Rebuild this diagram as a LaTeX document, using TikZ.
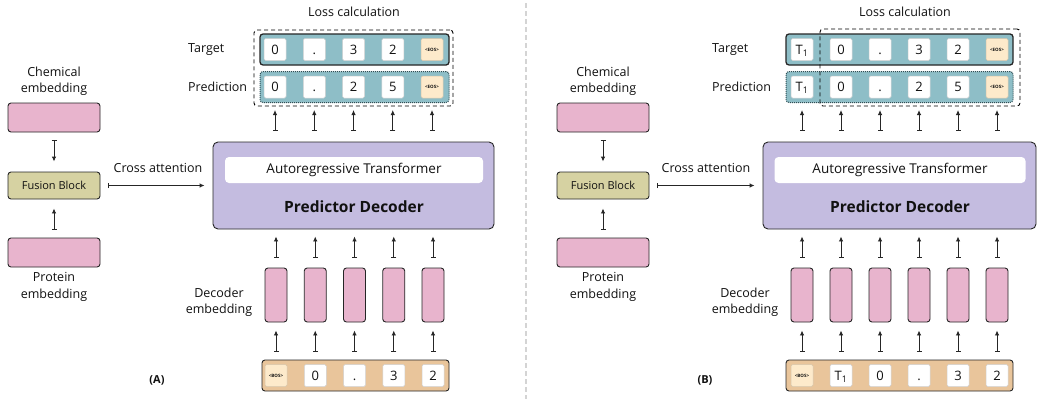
\documentclass[tikz,border=0pt]{standalone}
\usepackage{fontspec}
\setmainfont{Open Sans}
\usetikzlibrary{arrows.meta,calc}

\definecolor{pinkemb}{HTML}{E8B4CD}
\definecolor{fusefill}{HTML}{D6D2A2}
\definecolor{decfill}{HTML}{C4BCE0}
\definecolor{tealbar}{HTML}{8EBEC7}
\definecolor{tanbar}{HTML}{E9C59B}
\definecolor{cream}{HTML}{FDEACB}
\definecolor{edge}{HTML}{262626}
\definecolor{dotedge}{HTML}{2F4F55}
\definecolor{divider}{HTML}{D4D4D4}
\definecolor{ink}{HTML}{111111}

\newcommand\eostok{<EOS>}
\newcommand\bostok{<BOS>}
\newcommand\tonetok{T\textsubscript{1}}

\begin{document}
\begin{tikzpicture}[x=1pt,y=-1pt,
  lbl/.style={font=\fontsize{12.5}{16.5}\selectfont, text=ink, inner sep=0pt},
  box/.style={draw=edge, line width=0.9pt, rounded corners=3pt, inner sep=0pt},
  emb/.style={box, fill=pinkemb},
  tok/.style={draw=black!18, line width=0.5pt, fill=white, rounded corners=1.5pt,
    minimum width=22pt, minimum height=22pt, inner sep=0pt, text=ink,
    text height=9pt, text depth=0pt,
    font=\fontsize{13}{13}\selectfont},
  spec/.style={tok, fill=cream, draw=cream!85!black, text height=3.2pt,
    font=\fontsize{4.5}{4.5}\selectfont\bfseries},
  tbar/.style={draw=edge, line width=1.3pt, fill=tealbar, rounded corners=3pt, inner sep=0pt},
  pbar/.style={draw=dotedge, line width=1pt, dash pattern=on 1pt off 1pt, fill=tealbar, rounded corners=3pt, inner sep=0pt},
  ibar/.style={draw=edge, line width=0.9pt, fill=tanbar, rounded corners=3pt, inner sep=0pt},
  lossbox/.style={draw=black, line width=0.9pt, dash pattern=on 4pt off 3pt, rounded corners=3pt, inner sep=0pt},
  arr/.style={draw=edge, line width=0.9pt, arrows={Bar[width=5pt,line width=0.9pt]-Latex[length=5pt,width=4.5pt]}},
  artext/.style={fill=white, rounded corners=4pt, minimum height=26pt, inner sep=0pt,
    font=\fontsize{13.5}{13.5}\selectfont, text=ink},
  pdtext/.style={font=\fontsize{15.5}{15.5}\selectfont\bfseries, text=ink, inner sep=0pt},
  panel/.style={font=\fontsize{11}{11}\selectfont\bfseries, text=ink, inner sep=0pt}
]
\useasboundingbox (0,0) rectangle (1040,402);
\fill[white] (0,0) rectangle (1040,402);

% separator between the two panels
\draw[divider, line width=1.3pt, dash pattern=on 5pt off 3pt] (526,3) -- (526,399);

% chemical / protein embeddings feeding the fusion block
\foreach \p/\dx in {A/0,B/549}{
  \node[lbl, align=center] (\p-chemlbl) at (54+\dx,81) {Chemical\\embedding};
  \node[emb, minimum width=92pt, minimum height=29pt] (\p-chem) at (54+\dx,117.5) {};
  \node[box, fill=fusefill, minimum width=92pt, minimum height=27pt,
        font=\fontsize{11}{11}\selectfont, text=ink] (\p-fuse) at (54+\dx,185.5) {Fusion Block};
  \node[emb, minimum width=92pt, minimum height=29pt] (\p-prot) at (54+\dx,252.5) {};
  \node[lbl, align=center] (\p-protlbl) at (54+\dx,287) {Protein\\embedding};
  \draw[arr] ($(\p-chem.south)+(0,8)$) -- ($(\p-fuse.north)+(0,-10)$);
  \draw[arr] ($(\p-prot.north)+(0,-8)$) -- ($(\p-fuse.south)+(0,9)$);
}

% ---------------- panel (A) ----------------
\node[box, fill=decfill, rounded corners=5pt, minimum width=281pt, minimum height=87pt] (A-dec) at (353.5,185.5) {};
\node[artext, minimum width=258pt] (A-ar) at (354,170) {Autoregressive Transformer};
\node[pdtext] (A-pd) at (354,207) {Predictor Decoder};

\draw[arr] ($(A-fuse.east)+(8,0)$) -- ($(A-dec.west)+(-8,0)$);
\node[lbl] (A-cross) at (158,168) {Cross attention};

\node[tbar, minimum width=189pt, minimum height=31pt] (A-tbar) at (354.5,49.5) {};
\node[pbar, minimum width=189pt, minimum height=31pt] (A-pbar) at (354.5,87) {};
\node[ibar, minimum width=187pt, minimum height=31pt] (A-ibar) at (355.5,375.5) {};

\foreach \t/\s [count=\i from 0] in {0/tok,./tok,3/tok,2/tok,\eostok/spec}
  \node[\s] (A-t\i) at ({275+39.25*\i},49.5) {\t};
\foreach \t/\s [count=\i from 0] in {0/tok,./tok,2/tok,5/tok,\eostok/spec}
  \node[\s] (A-p\i) at ({275+39.25*\i},87) {\t};
\foreach \t/\s [count=\i from 0] in {\bostok/spec,0/tok,./tok,3/tok,2/tok}
  \node[\s] (A-i\i) at ({276+39.25*\i},375.5) {\t};
\foreach \i in {0,...,4}{
  \node[emb, minimum width=22pt, minimum height=54pt] (A-e\i) at ({276+39.25*\i},295) {};
  \draw[arr] ($(A-dec.north -| A-p\i)+(0,-11)$) -- ($(A-p\i |- A-pbar.south)+(0,7)$);
  \draw[arr] ($(A-e\i.north)+(0,-10)$) -- ($(A-dec.south -| A-e\i)+(0,7)$);
  \draw[arr] ($(A-i\i |- A-ibar.north)+(0,-8)$) -- ($(A-e\i.south)+(0,8)$);
}

\node[lossbox, minimum width=199pt, minimum height=76pt] (A-loss) at (353.5,68) {};
\node[lbl] (A-losslbl) at (354,12) {Loss calculation};
\node[lbl, anchor=west] (A-tlbl) at (188,49.5) {Target};
\node[lbl, anchor=west] (A-plbl) at (188,87) {Prediction};
\node[lbl, align=center] (A-elbl) at (219,302) {Decoder\\embedding};
\node[panel] (A-tag) at (157,380) {(A)};

% ---------------- panel (B) ----------------
\node[box, fill=decfill, rounded corners=5pt, minimum width=273pt, minimum height=87pt] (B-dec) at (899.5,185.5) {};
\node[artext, minimum width=251pt] (B-ar) at (900,170) {Autoregressive Transformer};
\node[pdtext] (B-pd) at (900,207) {Predictor Decoder};

\draw[arr] ($(B-fuse.east)+(8,0)$) -- ($(B-dec.west)+(-8,0)$);
\node[lbl] (B-cross) at (706,168) {Cross attention};

\node[tbar, minimum width=227pt, minimum height=31pt] (B-tbar) at (899.5,49.5) {};
\node[pbar, minimum width=227pt, minimum height=31pt] (B-pbar) at (899.5,87) {};
\node[ibar, minimum width=227pt, minimum height=31pt] (B-ibar) at (899.5,375.5) {};

\foreach \t/\s [count=\i from 0] in {\tonetok/tok,0/tok,./tok,3/tok,2/tok,\eostok/spec}
  \node[\s] (B-t\i) at ({802+39*\i},49.5) {\t};
\foreach \t/\s [count=\i from 0] in {\tonetok/tok,0/tok,./tok,2/tok,5/tok,\eostok/spec}
  \node[\s] (B-p\i) at ({802+39*\i},87) {\t};
\foreach \t/\s [count=\i from 0] in {\bostok/spec,\tonetok/tok,0/tok,./tok,3/tok,2/tok}
  \node[\s] (B-i\i) at ({802+39*\i},375.5) {\t};
\foreach \i in {0,...,5}{
  \node[emb, minimum width=22pt, minimum height=54pt] (B-e\i) at ({802+39*\i},295) {};
  \draw[arr] ($(B-dec.north -| B-p\i)+(0,-11)$) -- ($(B-p\i |- B-pbar.south)+(0,7)$);
  \draw[arr] ($(B-e\i.north)+(0,-10)$) -- ($(B-dec.south -| B-e\i)+(0,7)$);
  \draw[arr] ($(B-i\i |- B-ibar.north)+(0,-8)$) -- ($(B-e\i.south)+(0,8)$);
}

\node[lossbox, minimum width=200pt, minimum height=77pt] (B-loss) at (920,67.5) {};
\node[lbl] (B-losslbl) at (905,12) {Loss calculation};
\node[lbl, anchor=west] (B-tlbl) at (712,49.5) {Target};
\node[lbl, anchor=west] (B-plbl) at (712,87) {Prediction};
\node[lbl, align=center] (B-elbl) at (745,302) {Decoder\\embedding};
\node[panel] (B-tag) at (705,380) {(B)};
\end{tikzpicture}
\end{document}
